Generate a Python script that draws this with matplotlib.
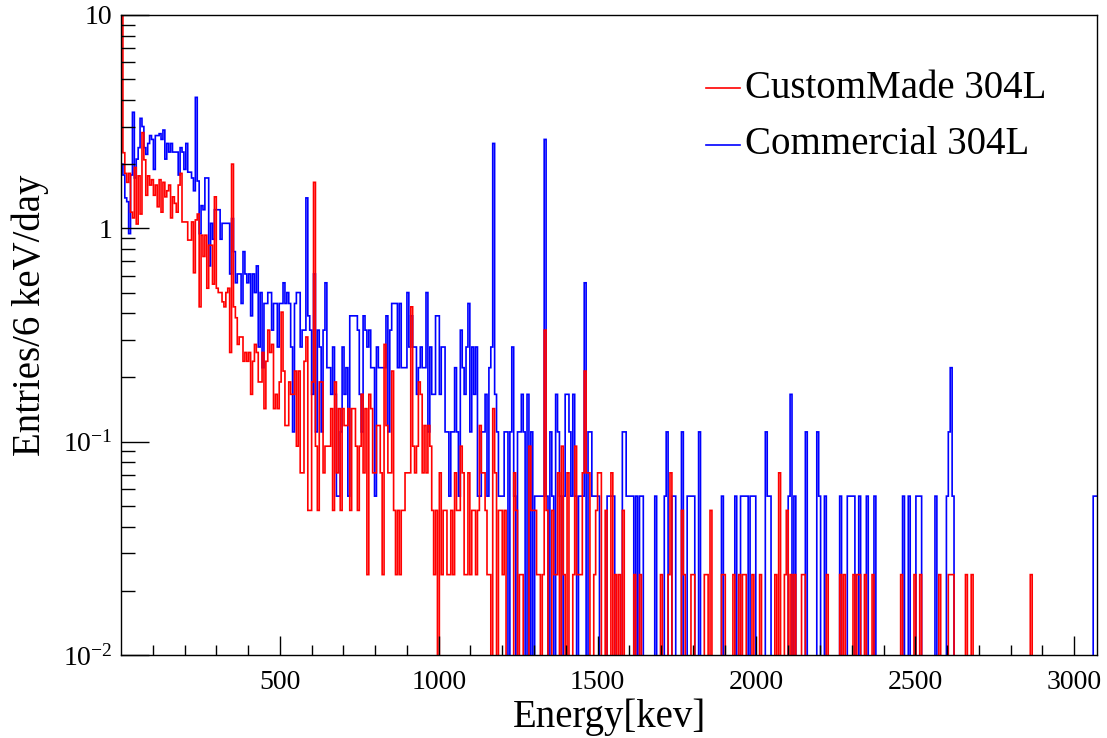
import numpy as np
import matplotlib
matplotlib.use("Agg")
import matplotlib.pyplot as plt
from matplotlib.lines import Line2D
from matplotlib.ticker import FixedLocator, NullFormatter

plt.rcParams['font.family'] = ['Liberation Serif', 'DejaVu Serif']
plt.rcParams['mathtext.fontset'] = 'custom'
plt.rcParams['mathtext.rm'] = 'Liberation Serif'

# ---------------- data ----------------
n_bins = 512
bin_width = 6.0          # keV
blue_unit = 1.0 / 18.0   # entries/day per count (Commercial)
red_unit = 1.0 / 42.0    # entries/day per count (CustomMade)

blue_dense = [
    36,32,25,24,17,32,63,31,38,43,59,54,43,40,45,49,47,34,49,49,50,47,52,38,45,41,45,41,
    41,
    41,32,43,41,34,45,33,33,31,27,74,30,17,23,22,31,31,12,19,16,22,22,22,16,19,19,19,19,11,20,
    14,10,11,11,8,14,11,10,11,7,11,9,12,5,9,4,8,
    8,
    9,9,6,8,8,5,8,8,10,8,9,8,5,2,8,9,9,5,6,6,25,7,6,3,11,2,6,5,2,6,10,4,4,3,5,3,1,1,2,5,
    3,4,1,7,7,7,
    7,
    6,3,2,7,6,5,6,4,4,1,5,4,4,4,4,7,2,6,8,8,8,4,8,4,4,4,9,5,7,5,5,3,4,5,4,4,9,2,5,3,
    3,7,7,3,5,5,2,
    2,
    1,2,2,4,2,1,6,4,3,5,8,2,5,3,5,1,1,2,2,3,1,4,5,45,3,2,1,1,1,2,2,0,2,5,1,0,2,2,3,2,
    0,3,0,2,0,1,
    1,
    1,1,1,47,1,0,2,1,0,3,2,1,0,1,3,3,2,1,3,1,0,1,1,1,10,0,2,2,1,1,1,1,0,0,0,0,1,1,1,1,
    0,0,0,0,2,2,1,
    1,
    1,1,0,1,0,1,1,0,0,0,0,0,0,1,0,0,0,0,1,2,0,0,1,1,0,0,0,2,0,0,1,1,1,1,0,0,2,0,0,0,
    0,0,0,0,0,0,
]
blue_sparse_bins = [315,322,325,326,327,328,330,331,332,338,339,340,350,351,353,359,365,366,
                    369,377,381,382,383,384,387,391,395,410,413,417,418,419,427,433,434,435,
                    436,510,511]
blue_sparse_counts = [1,1,1,1,1,1,1,1,1,2,1,1,1,3,1,2,2,1,
                      1,1,1,1,1,1,1,1,1,1,1,1,1,1,1,1,2,4,
                      1,1,1]

red_dense = [
    630,95,76,69,76,50,47,81,44,74,49,118,88,60,74,67,71,60,67,53,71,50,69,59,63,67,47,59,
    55,
    50,67,76,45,45,45,37,37,45,26,46,49,18,39,31,39,22,35,35,23,59,22,21,21,19,18,21,22,11,84,
    18,16,12,13,13,10,11,10,11,7,10,12,11,8,8,11,6,
    10,
    14,11,12,6,7,6,8,17,9,5,5,8,7,7,9,4,9,3,3,10,13,2,2,8,69,4,2,8,8,3,4,4,4,6,2,8,3,6,2,6,
    5,5,6,2,6,6,
    4,
    2,4,7,3,6,1,7,6,3,3,5,5,3,1,12,5,3,3,9,2,1,2,1,2,2,3,3,3,18,4,3,4,8,7,3,5,3,5,4,2,
    1,2,0,3,1,2,2,
    1,
    1,2,1,3,2,2,4,3,1,1,3,1,2,2,1,2,5,3,3,2,1,1,0,6,3,0,2,2,1,2,0,0,0,0,3,2,0,1,1,0,
    0,0,4,2,2,2,
    1,
    1,0,1,14,2,0,0,2,1,1,3,0,4,1,0,3,0,0,1,4,1,1,1,3,9,3,3,0,0,1,2,3,3,0,0,2,0,0,3,0,
    1,0,1,0,2,0,0,
    0,
]
red_sparse_bins = [269,272,283,287,288,294,295,299,300,306,307,309,315,316,321,324,326,327,
                   331,335,343,345,348,349,351,353,357,358,370,377,379,384,386,387,390,394,
                   409,416,419,429,434,435,436,443,446,477]
red_sparse_counts = [1,1,1,1,3,2,1,1,1,1,1,2,1,1,1,1,1,1,
                     1,1,1,3,1,2,1,1,1,1,1,1,1,1,1,1,1,1,
                     1,1,1,1,1,1,1,1,1,1]

labels = ["CustomMade 304L", "Commercial 304L"]
x_ticks = [500, 1000, 1500, 2000, 2500, 3000]

# ---------------- build histograms ----------------
def build(dense, sbins, scounts, unit):
    c = np.zeros(n_bins)
    c[:len(dense)] = dense
    c[np.array(sbins)] = scounts
    v = c * unit
    return np.where(v > 0, v, 1e-4)   # empty bins drop below the frame (ROOT style)

edges = np.arange(n_bins + 1) * bin_width
blue_vals = build(blue_dense, blue_sparse_bins, blue_sparse_counts, blue_unit)
red_vals = build(red_dense, red_sparse_bins, red_sparse_counts, red_unit)

# ---------------- figure ----------------
W, H = 1107, 738
fig = plt.figure(figsize=(W / 100, H / 100), dpi=100)
L, R, T, B = 121, 1097, 15, 655
ax = fig.add_axes([L / W, 1 - B / H, (R - L) / W, (B - T) / H])

ax.stairs(blue_vals, edges, color=(0, 0, 1), lw=1.2, baseline=None)
ax.stairs(red_vals, edges, color=(1, 0, 0), lw=1.2, baseline=None)

ax.set_yscale('log')
ax.set_xlim(0, n_bins * bin_width)
ax.set_ylim(0.01, 10)

ax.xaxis.set_major_locator(FixedLocator(x_ticks))
ax.xaxis.set_minor_locator(FixedLocator([v for v in range(100, 3100, 100) if v % 500]))
ax.set_xticklabels([str(v) for v in x_ticks])
ax.yaxis.set_major_locator(FixedLocator([0.01, 0.1, 1, 10]))
ax.yaxis.set_minor_locator(FixedLocator([m * 10.0 ** e for e in (-2, -1, 0) for m in range(2, 10)]))
ax.yaxis.set_minor_formatter(NullFormatter())
ax.set_yticklabels([r'$\mathregular{10^{-2}}$', r'$\mathregular{10^{-1}}$', '1', '10'])

ax.tick_params(axis='x', which='major', direction='in', length=14, width=1, labelsize=20, pad=10.5)
ax.tick_params(axis='x', which='minor', direction='in', length=7, width=1)
ax.tick_params(axis='y', which='major', direction='in', length=20, width=1, labelsize=20, pad=6)
ax.tick_params(axis='y', which='minor', direction='in', length=10, width=1)
for s in ax.spines.values():
    s.set_linewidth(1.0)

ax.set_xlabel("Energy[kev]", fontsize=28)
ax.xaxis.set_label_coords(0.5, -0.068)
ax.xaxis.label.set_va('top')
ax.set_ylabel("Entries/6 keV/day", fontsize=28)
ax.yaxis.set_label_coords(-0.093, 0.53)
ax.yaxis.label.set_va('center')

# legend
for (yl, col, lab) in [(88, (1, 0, 0), labels[0]), (145, (0, 0, 1), labels[1])]:
    fig.add_artist(Line2D([706 / W, 740 / W], [1 - yl / H, 1 - yl / H], color=col, lw=1.2))
    fig.text(745 / W, 1 - yl / H, lab, fontsize=28, va='center', ha='left')

fig.savefig("out.png", dpi=100)
